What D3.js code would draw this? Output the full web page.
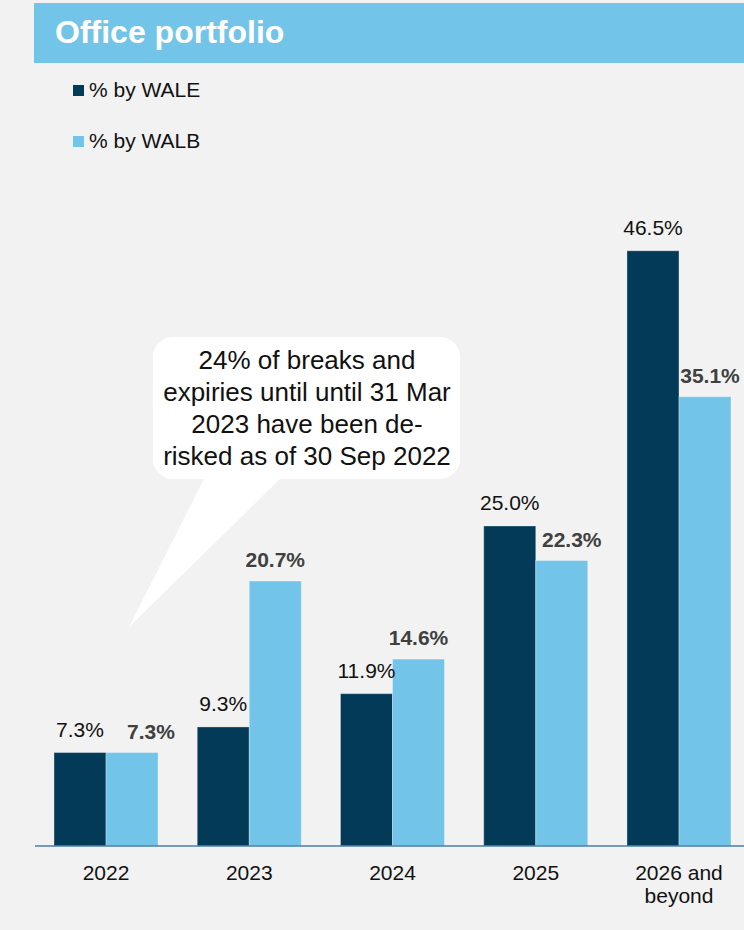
<!DOCTYPE html>
<html>
<head>
<meta charset="utf-8">
<script src="https://cdn.jsdelivr.net/npm/d3@7"></script>
<style>
  html, body { margin: 0; padding: 0; background: #f2f2f2; }
  svg { display: block; font-family: "Liberation Sans", Arial, Helvetica, sans-serif; }
</style>
</head>
<body>
<svg id="chart" width="744" height="930"></svg>
<script>
// Lease expiry profile of the office portfolio
const categories = ["2022", "2023", "2024", "2025", "2026 and beyond"];
const categoryLines = [["2022"], ["2023"], ["2024"], ["2025"], ["2026 and", "beyond"]];
const seriesNames = ["% by WALE", "% by WALB"];
const waleValues = [7.3, 9.3, 11.9, 25.0, 46.5];
const walbValues = [7.3, 20.7, 14.6, 22.3, 35.1];
const calloutLines = [
  "24% of breaks and",
  "expiries until until 31 Mar",
  "2023 have been de-",
  "risked as of 30 Sep 2022"
];
const titleText = "Office portfolio";

const colors = { wale: "#033a57", walb: "#72c5e8", band: "#72c5e8", axis: "#4a7ea3" };

const svg = d3.select("#chart");
const W = 744;
const baseY = 846;

// Title band
svg.append("rect").attr("x", 34).attr("y", 3).attr("width", W - 34).attr("height", 60)
  .attr("fill", colors.band);
svg.append("text").attr("x", 55).attr("y", 43)
  .attr("fill", "#ffffff").attr("font-weight", "bold").attr("font-size", 32)
  .text(titleText);

// Legend
const legendColors = [colors.wale, colors.walb];
const legend = svg.append("g");
seriesNames.forEach((name, i) => {
  const y = 97 + i * 51;
  legend.append("rect").attr("x", 73).attr("y", y - 12).attr("width", 11).attr("height", 11)
    .attr("fill", legendColors[i]);
  legend.append("text").attr("x", 89).attr("y", y).attr("font-size", 21)
    .attr("fill", "#111").text(name);
});

// Scales
const x = d3.scaleBand().domain(categories).range([34.4, 750.6])
  .paddingInner(0.274).paddingOuter(0.137);
const xSub = d3.scaleBand().domain(["wale", "walb"]).range([0, x.bandwidth()]);
const y = d3.scaleLinear().domain([0, 50]).range([baseY, baseY - 640]);

const rows = categories.map((c, i) => ({ cat: c, wale: waleValues[i], walb: walbValues[i] }));

// Bars
const groups = svg.append("g").selectAll("g").data(rows).join("g")
  .attr("transform", d => `translate(${x(d.cat)},0)`);

groups.append("rect")
  .attr("x", xSub("wale")).attr("width", xSub.bandwidth())
  .attr("y", d => y(d.wale)).attr("height", d => y(0) - y(d.wale))
  .attr("fill", colors.wale)
  .attr("stroke", "rgba(255,255,255,0.3)").attr("stroke-width", 1);

groups.append("rect")
  .attr("x", xSub("walb")).attr("width", xSub.bandwidth())
  .attr("y", d => y(d.walb)).attr("height", d => y(0) - y(d.walb))
  .attr("fill", colors.walb)
  .attr("stroke", "rgba(255,255,255,0.3)").attr("stroke-width", 1);

// Value labels (bold WALB labels nudged right where they sit close to a neighbour)
const walbLabelNudge = [19, 0, 0, 10, 5];

groups.append("text")
  .attr("x", xSub("wale") + xSub.bandwidth() / 2)
  .attr("y", d => y(d.wale) - 16)
  .attr("text-anchor", "middle").attr("font-size", 21).attr("fill", "#111")
  .text(d => d.wale.toFixed(1) + "%");

groups.append("text")
  .attr("x", (d, i) => xSub("walb") + xSub.bandwidth() / 2 + walbLabelNudge[i])
  .attr("y", d => y(d.walb) - 14)
  .attr("text-anchor", "middle").attr("font-size", 21).attr("font-weight", "bold")
  .attr("fill", "#404040")
  .text(d => d.walb.toFixed(1) + "%");

// Category axis
const axis = svg.append("g").attr("transform", `translate(0,${baseY})`)
  .call(d3.axisBottom(x).tickSize(0).tickPadding(0));
axis.select(".domain").remove();
axis.append("line").attr("x1", 35).attr("x2", W).attr("y1", 0).attr("y2", 0)
  .attr("stroke", colors.axis).attr("stroke-width", 1.5);
axis.selectAll(".tick text").each(function(d, i) {
  const t = d3.select(this);
  t.text(null).attr("y", 34).attr("dy", null)
    .attr("font-size", 21).attr("font-family", "'Liberation Sans', Arial, sans-serif")
    .attr("fill", "#111");
  categoryLines[i].forEach((line, k) => {
    t.append("tspan").attr("x", 0).attr("y", 34 + k * 23).text(line);
  });
});

// Callout bubble with pointer
const callout = svg.append("g");
const bx = 153, by = 337, bw = 307, bh = 142, r = 20;
const tip = [129, 627];
const path = d3.path();
path.moveTo(bx + r, by);
path.lineTo(bx + bw - r, by);
path.arcTo(bx + bw, by, bx + bw, by + r, r);
path.lineTo(bx + bw, by + bh - r);
path.arcTo(bx + bw, by + bh, bx + bw - r, by + bh, r);
path.lineTo(280, by + bh);
path.lineTo(tip[0], tip[1]);
path.lineTo(204, by + bh);
path.lineTo(bx + r, by + bh);
path.arcTo(bx, by + bh, bx, by + bh - r, r);
path.lineTo(bx, by + r);
path.arcTo(bx, by, bx + r, by, r);
path.closePath();
callout.append("path").attr("d", path.toString()).attr("fill", "#ffffff");

callout.append("text").attr("text-anchor", "middle").attr("font-size", 26).attr("fill", "#111")
  .selectAll("tspan").data(calloutLines).join("tspan")
  .attr("x", 307).attr("y", (d, i) => 369 + i * 32).text(d => d);
</script>
</body>
</html>
